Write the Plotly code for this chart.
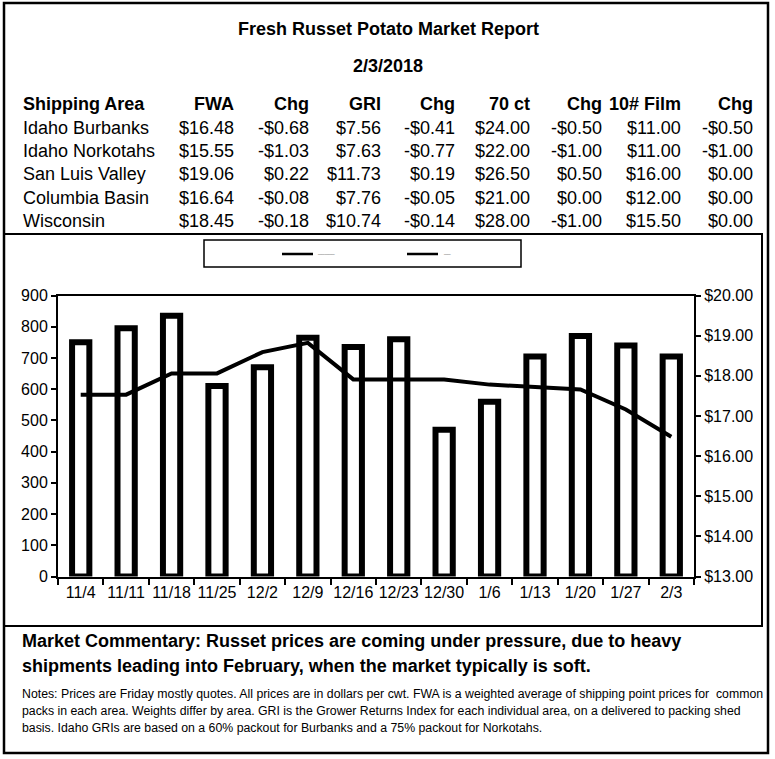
import plotly.graph_objects as go

# ---------------- data ----------------
weeks = ["11/4", "11/11", "11/18", "11/25", "12/2", "12/9", "12/16",
         "12/23", "12/30", "1/6", "1/13", "1/20", "1/27", "2/3"]
shipments = [750, 795, 835, 610, 670, 765, 735, 760, 470, 560, 705, 770, 740, 705]
fwa_price = [17.53, 17.53, 18.06, 18.06, 18.59, 18.82, 17.91,
             17.91, 17.91, 17.78, 17.72, 17.66, 17.16, 16.48]

areas = ["Idaho Burbanks", "Idaho Norkotahs", "San Luis Valley", "Columbia Basin", "Wisconsin"]
fwa = [16.48, 15.55, 19.06, 16.64, 18.45]
fwa_chg = [-0.68, -1.03, 0.22, -0.08, -0.18]
gri = [7.56, 7.63, 11.73, 7.76, 10.74]
gri_chg = [-0.41, -0.77, 0.19, -0.05, -0.14]
ct70 = [24.00, 22.00, 26.50, 21.00, 28.00]
ct70_chg = [-0.50, -1.00, 0.50, 0.00, -1.00]
film = [11.00, 11.00, 16.00, 12.00, 15.50]
film_chg = [-0.50, -1.00, 0.00, 0.00, 0.00]
col_headers = ["FWA", "Chg", "GRI", "Chg", "70 ct", "Chg", "10# Film", "Chg"]

title = "Fresh Russet Potato Market Report"
report_date = "2/3/2018"
commentary = ["Market Commentary: Russet prices are coming under pressure, due to heavy",
              "shipments leading into February, when the market typically is soft."]
notes = ["Notes: Prices are Friday mostly quotes. All prices are in dollars per cwt. FWA is a weighted average of shipping point prices for  common",
         "packs in each area. Weights differ by area. GRI is the Grower Returns Index for each individual area, on a delivered to packing shed",
         "basis. Idaho GRIs are based on a 60% packout for Burbanks and a 75% packout for Norkotahs."]

# ---------------- layout helpers ----------------
W, H = 775, 759
FONT = "Liberation Sans, Arial, sans-serif"


def px(x):
    return x / W


def py(y):
    return 1 - y / H


def money(v):
    return ("-" if v < 0 else "") + "${:.2f}".format(abs(v))


fig = go.Figure()
fig.add_trace(go.Bar(
    x=weeks, y=shipments, width=0.38, yaxis="y", xaxis="x",
    marker=dict(color="white", line=dict(color="black", width=6)),
    name="Shipments"))
fig.add_trace(go.Scatter(
    x=weeks, y=fwa_price, yaxis="y2", xaxis="x", mode="lines",
    line=dict(color="black", width=4), name="FWA"))

tickfont = dict(family=FONT, size=16, color="black")
fig.update_layout(
    width=W, height=H, margin=dict(l=0, r=0, t=0, b=0),
    paper_bgcolor="white", plot_bgcolor="white", showlegend=False,
    template="none",
    xaxis=dict(domain=[px(58), px(694)], type="category", anchor="y",
               showline=True, linecolor="black", linewidth=2, mirror=True,
               ticks="outside", tickson="boundaries", ticklen=6, tickwidth=1.5,
               tickcolor="black", showgrid=False, zeroline=False, tickangle=0,
               tickfont=tickfont, automargin=False),
    yaxis=dict(domain=[py(576.5), py(295.5)], range=[0, 900], dtick=100,
               showline=True, linecolor="black", linewidth=2,
               ticks="outside", ticklen=5, tickwidth=1.5, tickcolor="black",
               showgrid=False, zeroline=False, tickfont=tickfont, automargin=False),
    yaxis2=dict(overlaying="y", side="right", anchor="x", range=[13, 20], dtick=1,
                tickformat="$.2f", showline=True, linecolor="black", linewidth=2,
                ticks="outside", ticklen=5, tickwidth=1.5, tickcolor="black",
                showgrid=False, zeroline=False, tickfont=tickfont, automargin=False),
)

shapes = []
# outer frame
shapes.append(dict(type="rect", xref="paper", yref="paper",
                   x0=px(4), x1=px(768), y0=py(753), y1=py(3),
                   line=dict(color="black", width=2.5)))
# chart box
shapes.append(dict(type="rect", xref="paper", yref="paper",
                   x0=px(4), x1=px(762), y0=py(626), y1=py(234),
                   line=dict(color="black", width=2)))
# legend box
shapes.append(dict(type="rect", xref="paper", yref="paper",
                   x0=px(204), x1=px(521), y0=py(267), y1=py(240),
                   line=dict(color="black", width=1.5)))
for lx0, lx1 in [(282, 313), (407, 438)]:
    shapes.append(dict(type="line", xref="paper", yref="paper",
                       x0=px(lx0), x1=px(lx1), y0=py(254), y1=py(254),
                       line=dict(color="black", width=2.5)))
fig.update_layout(shapes=shapes)

ann = []


def text(x, y, s, size, bold=False, xanchor="left", color="black"):
    ann.append(dict(xref="paper", yref="paper", x=px(x), y=py(y),
                    text=("<b>%s</b>" % s) if bold else s, showarrow=False,
                    xanchor=xanchor, yanchor="middle",
                    font=dict(family=FONT, size=size, color=color)))


# legend texts (tiny, as in original)
text(315, 252, "_____", 6, color="#555555")
text(441, 252, "__", 6, color="#555555")

# title block
text(388, 29, title, 18, bold=True, xanchor="center")
text(388, 66, report_date, 18, bold=True, xanchor="center")

# table
TS = 18
col_right = [236, 311, 383, 457, 532, 604, 683, 755]
row_y = [104.5, 127.7, 150.7, 174.2, 197.8, 221.3]
text(21, row_y[0], "Shipping Area", TS, bold=True)
for xr, h in zip(col_right, col_headers):
    text(xr, row_y[0], h, TS, bold=True, xanchor="right")
cols = [fwa, fwa_chg, gri, gri_chg, ct70, ct70_chg, film, film_chg]
for i, area in enumerate(areas):
    y = row_y[i + 1]
    text(21, y, area, TS)
    for xr, col in zip(col_right, cols):
        text(xr, y, money(col[i]), TS, xanchor="right")

# commentary
text(20, 641, commentary[0], 18, bold=True)
text(20, 666, commentary[1], 18, bold=True)
for yy, line in zip([694, 711, 728], notes):
    text(20, yy, line, 12.3)

fig.update_layout(annotations=ann)
fig.write_html("out.html", config={"displayModeBar": False},
               post_script="document.body.style.margin='0';document.body.style.overflow='hidden';")
